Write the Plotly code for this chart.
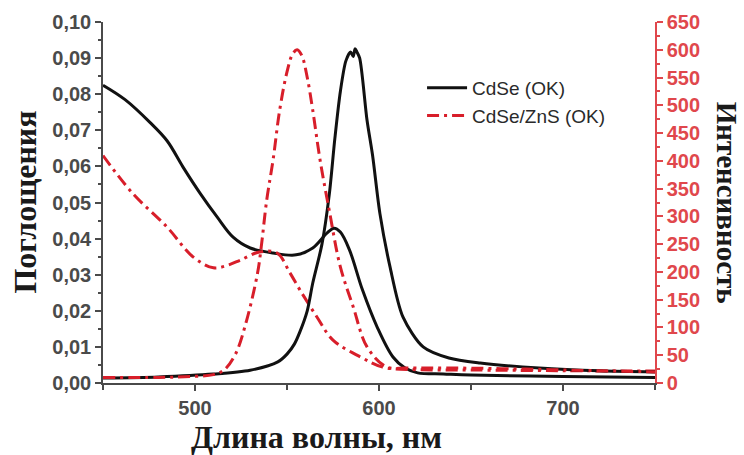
import plotly.graph_objects as go

# Absorption spectra (left axis, optical density)
wl_abs_cdse = [450, 462, 475.5, 484.8, 493.5, 502.7, 512, 520.7, 530, 542.4, 555, 564, 571.7,
               575.5, 579, 584, 591, 599, 607.6, 614, 621, 635, 650, 700, 750]
abs_cdse = [0.0825, 0.0785, 0.0722, 0.0671, 0.0598, 0.0526, 0.046, 0.0404, 0.0374, 0.036,
            0.0355, 0.0374, 0.0415, 0.0429, 0.0418, 0.0368, 0.0258, 0.0155, 0.0072, 0.0042,
            0.0028, 0.0025, 0.0022, 0.0018, 0.0015]

wl_abs_zns = [450, 466, 484.8, 499, 510, 517, 524.5, 535, 544.6, 551.6, 557, 566, 575,
              590, 602, 620, 650, 700, 750]
abs_zns = [0.063, 0.0526, 0.0432, 0.0349, 0.0319, 0.0325, 0.034, 0.0363, 0.036, 0.0305,
           0.0258, 0.0185, 0.0119, 0.0072, 0.0044, 0.0037, 0.0036, 0.0034, 0.0033]

# Photoluminescence spectra (right axis, intensity)
wl_pl_cdse = [450, 480, 510, 530, 545, 550, 554, 557, 561, 564, 569, 573, 576, 579, 582, 584.5,
              586, 587, 588, 589.5, 593.5, 596.5, 600.5, 606, 613, 624, 638, 655, 687, 720, 750]
pl_cdse = [9, 11, 16, 23, 38, 52, 70, 92, 130, 180, 250, 340, 440, 525, 580, 596,
           588, 602, 596, 585, 473, 410, 305, 209, 119, 65, 45, 36, 27, 22, 20]

wl_pl_zns = [450, 480, 500, 510, 516, 522, 528, 534, 536, 539, 542.4, 546, 550, 553, 555.5,
             558, 561, 564, 568, 573, 579, 586, 593.5, 604, 615, 640, 680, 720, 750]
pl_zns = [10, 10, 12, 15, 24, 52, 112, 198, 245, 330, 401, 491, 560, 592, 600,
          590, 550, 491, 401, 310, 209, 137, 65, 29, 27, 27, 25, 22, 20]

x_ticks = [500, 600, 700]
left_ticks = [0.00, 0.01, 0.02, 0.03, 0.04, 0.05, 0.06, 0.07, 0.08, 0.09, 0.10]
right_ticks = list(range(0, 651, 50))

BLACK = "#111111"
RED = "#d81e2a"
AXIS_RED = "#e0474c"
TICK_GREY = "#4a4a4a"
DASHDOT = "12px,5px,3px,5px"

fig = go.Figure()
fig.add_trace(go.Scatter(x=wl_abs_cdse, y=abs_cdse, name="CdSe (OK)", mode="lines",
                         line=dict(color=BLACK, width=3, shape="spline", smoothing=1.0),
                         yaxis="y"))
fig.add_trace(go.Scatter(x=wl_abs_zns, y=abs_zns, name="CdSe/ZnS (OK)", mode="lines",
                         line=dict(color=RED, width=3, dash=DASHDOT, shape="spline", smoothing=1.0),
                         yaxis="y"))
fig.add_trace(go.Scatter(x=wl_pl_cdse, y=pl_cdse, name="CdSe PL", mode="lines", showlegend=False,
                         line=dict(color=BLACK, width=3, shape="spline", smoothing=0.8),
                         yaxis="y2"))
fig.add_trace(go.Scatter(x=wl_pl_zns, y=pl_zns, name="CdSe/ZnS PL", mode="lines", showlegend=False,
                         line=dict(color=RED, width=3, dash=DASHDOT, shape="spline", smoothing=1.0),
                         yaxis="y2"))

tick_font = dict(family="Liberation Sans", size=20, color=TICK_GREY, weight="bold")
title_font = dict(family="Liberation Serif", size=32, color="#1a1a1a", weight="bold")

fig.update_layout(
    width=744, height=455,
    margin=dict(l=103, r=89, t=22, b=72),
    paper_bgcolor="white", plot_bgcolor="white",
    separators=", ",
    showlegend=True,
    legend=dict(x=0.578, y=0.87, xanchor="left", yanchor="top",
                bgcolor="rgba(0,0,0,0)", borderwidth=0,
                font=dict(family="Liberation Sans", size=19, color="#2a2a2a"),
                tracegroupgap=0, itemwidth=40),
    xaxis=dict(range=[450, 750], tickvals=x_ticks, ticks="outside", ticklen=6, tickwidth=1.5,
               tickcolor=TICK_GREY, showline=True, linecolor=TICK_GREY, linewidth=1.5,
               showgrid=False, zeroline=False, tickfont=tick_font,
               minor=dict(dtick=50, tick0=450, ticks="outside", ticklen=5, tickcolor=TICK_GREY)),
    yaxis=dict(range=[0, 0.1], tickvals=left_ticks, tickformat=".2f", ticks="outside",
               ticklen=6, tickwidth=1.5, tickcolor=TICK_GREY, showline=True,
               linecolor=TICK_GREY, linewidth=1.5, showgrid=False, zeroline=False,
               tickfont=tick_font,
               minor=dict(dtick=0.005, tick0=0, ticks="outside", ticklen=3, tickcolor=TICK_GREY)),
    yaxis2=dict(range=[0, 650], tickvals=right_ticks, overlaying="y", side="right",
                ticks="outside", ticklen=6, tickwidth=1.5, tickcolor=AXIS_RED,
                showline=True, linecolor=AXIS_RED, linewidth=1.5, showgrid=False,
                zeroline=False, tickfont=dict(family="Liberation Sans", size=20,
                                              color=AXIS_RED, weight="bold"),
                minor=dict(dtick=25, tick0=0, ticks="outside", ticklen=3, tickcolor=AXIS_RED)),
    annotations=[
        dict(text="Поглощения", xref="paper", yref="paper", x=-0.143, y=0.5,
             textangle=-90, showarrow=False, font=title_font,
             xanchor="center", yanchor="middle"),
        dict(text="Интенсивность", xref="paper", yref="paper", x=1.132, y=0.5,
             textangle=90, showarrow=False,
             font=dict(family="Liberation Serif", size=29, color="#1a1a1a", weight="bold"),
             xanchor="center", yanchor="middle"),
        dict(text="Длина волны, нм", xref="paper", yref="paper", x=0.386, y=-0.15,
             showarrow=False, font=title_font, xanchor="center", yanchor="middle"),
    ],
)

fig.write_html("out.html")
